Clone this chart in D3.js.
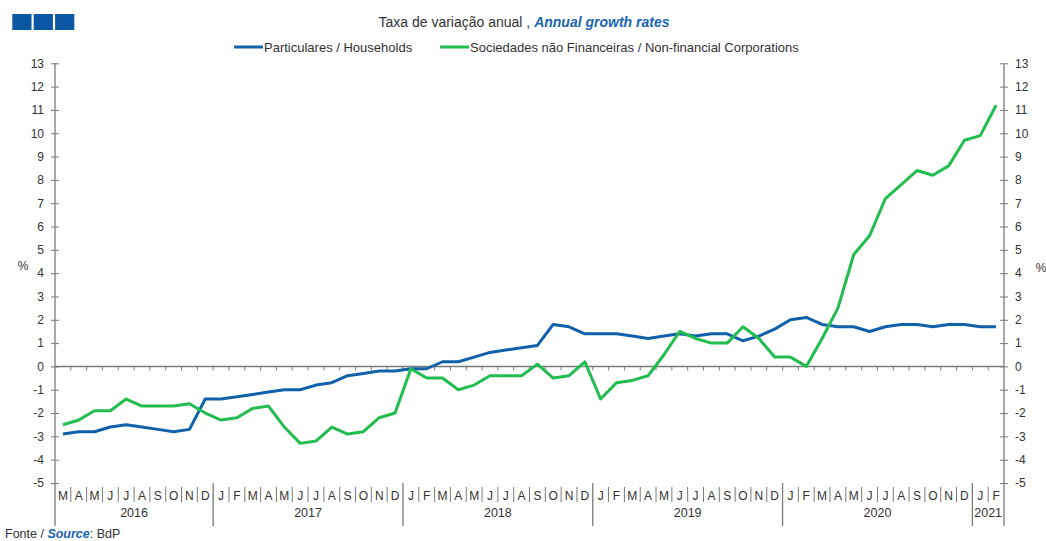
<!DOCTYPE html>
<html>
<head>
<meta charset="utf-8">
<script src="https://cdn.jsdelivr.net/npm/d3@7"></script>
<style>
  html, body { margin: 0; padding: 0; background: #fff; }
  svg { display: block; font-family: "Liberation Sans", Arial, sans-serif; }
</style>
</head>
<body>
<svg id="chart" width="1046" height="541"></svg>
<script>
// ---- data ----
const months = [
  "2016-03","2016-04","2016-05","2016-06","2016-07","2016-08","2016-09","2016-10","2016-11","2016-12",
  "2017-01","2017-02","2017-03","2017-04","2017-05","2017-06","2017-07","2017-08","2017-09","2017-10","2017-11","2017-12",
  "2018-01","2018-02","2018-03","2018-04","2018-05","2018-06","2018-07","2018-08","2018-09","2018-10","2018-11","2018-12",
  "2019-01","2019-02","2019-03","2019-04","2019-05","2019-06","2019-07","2019-08","2019-09","2019-10","2019-11","2019-12",
  "2020-01","2020-02","2020-03","2020-04","2020-05","2020-06","2020-07","2020-08","2020-09","2020-10","2020-11","2020-12",
  "2021-01","2021-02"
];
const monthInitials = ["J","F","M","A","M","J","J","A","S","O","N","D"];
const households = [
  -2.9,-2.8,-2.8,-2.6,-2.5,-2.6,-2.7,-2.8,-2.7,-1.4,
  -1.4,-1.3,-1.2,-1.1,-1.0,-1.0,-0.8,-0.7,-0.4,-0.3,-0.2,-0.2,
  -0.1,-0.1,0.2,0.2,0.4,0.6,0.7,0.8,0.9,1.8,1.7,1.4,
  1.4,1.4,1.3,1.2,1.3,1.4,1.3,1.4,1.4,1.1,1.3,1.6,
  2.0,2.1,1.8,1.7,1.7,1.5,1.7,1.8,1.8,1.7,1.8,1.8,
  1.7,1.7
];
const nonFinancial = [
  -2.5,-2.3,-1.9,-1.9,-1.4,-1.7,-1.7,-1.7,-1.6,-2.0,
  -2.3,-2.2,-1.8,-1.7,-2.6,-3.3,-3.2,-2.6,-2.9,-2.8,-2.2,-2.0,
  -0.1,-0.5,-0.5,-1.0,-0.8,-0.4,-0.4,-0.4,0.1,-0.5,-0.4,0.2,
  -1.4,-0.7,-0.6,-0.4,0.5,1.5,1.2,1.0,1.0,1.7,1.2,0.4,
  0.4,0.0,1.2,2.5,4.8,5.6,7.2,7.8,8.4,8.2,8.6,9.7,
  9.9,11.2
];
const yTicks = [-5,-4,-3,-2,-1,0,1,2,3,4,5,6,7,8,9,10,11,12,13];
const seriesNames = ["Particulares / Households", "Sociedades não Financeiras / Non-financial Corporations"];

// ---- layout ----
const svg = d3.select("#chart");
const plotLeft = 55, plotRight = 1004, plotTop = 63.3, plotBottom = 483;
const axisBottomEnd = 526;
const blue = "#1160aa", green = "#22bd4f", axisColor = "#7a7a7a", textColor = "#333";

const x = d3.scaleBand().domain(months).range([plotLeft, plotRight]).padding(0);
const y = d3.scaleLinear().domain([-5, 13]).range([plotBottom, plotTop]);

// header squares
const sq = svg.append("g").attr("fill", "#0b57a4");
[0,1,2].forEach(i => sq.append("rect").attr("x", 12.3 + i * 21.4).attr("y", 14).attr("width", 19.2).attr("height", 16));

// title
const title = svg.append("text").attr("x", 524).attr("y", 27).attr("text-anchor", "middle")
  .attr("font-size", 14).attr("fill", textColor);
title.append("tspan").text("Taxa de variação anual , ");
title.append("tspan").attr("font-weight", "bold").attr("font-style", "italic").attr("fill", "#1a66b3").text("Annual growth rates");

// legend
const legendItems = [
  {name: seriesNames[0], color: blue, x: 234},
  {name: seriesNames[1], color: green, x: 440}
];
const lg = svg.append("g");
legendItems.forEach(d => {
  lg.append("line").attr("x1", d.x).attr("x2", d.x + 29).attr("y1", 47).attr("y2", 47)
    .attr("stroke", d.color).attr("stroke-width", 3);
  lg.append("text").attr("x", d.x + 30).attr("y", 51.5).attr("font-size", 13).attr("fill", textColor).text(d.name);
});

// y axes
function styleAxis(g) {
  g.select(".domain").remove();
  g.selectAll(".tick line").attr("stroke", axisColor).attr("x1", -4).attr("x2", 4);
  g.selectAll(".tick text").attr("fill", textColor).attr("font-size", 12)
    .attr("font-family", "Liberation Sans, Arial, sans-serif");
}
const fmt = d => String(d);
const yl = svg.append("g").attr("transform", `translate(${plotLeft},0)`)
  .call(d3.axisLeft(y).tickValues(yTicks).tickSize(4).tickPadding(7).tickFormat(fmt));
styleAxis(yl);
const yr = svg.append("g").attr("transform", `translate(${plotRight},0)`)
  .call(d3.axisRight(y).tickValues(yTicks).tickSize(4).tickPadding(7).tickFormat(fmt));
styleAxis(yr);
[plotLeft, plotRight].forEach(px => svg.append("line").attr("x1", px).attr("x2", px).attr("y1", plotTop).attr("y2", axisBottomEnd)
  .attr("stroke", axisColor).attr("stroke-width", 1.3));
svg.append("text").attr("x", 23).attr("y", 270).attr("text-anchor", "middle").attr("font-size", 12).attr("fill", textColor).text("%");
svg.append("text").attr("x", 1041).attr("y", 272).attr("text-anchor", "middle").attr("font-size", 12).attr("fill", textColor).text("%");

// zero line with month ticks
svg.append("line").attr("x1", plotLeft).attr("x2", plotRight).attr("y1", y(0)).attr("y2", y(0))
  .attr("stroke", axisColor).attr("stroke-width", 1.5);
svg.append("g").selectAll("line").data(months.slice(1)).join("line")
  .attr("x1", d => x(d)).attr("x2", d => x(d)).attr("y1", y(0)).attr("y2", y(0) + 4)
  .attr("stroke", axisColor).attr("stroke-width", 1);

// category axis: months
const monthOf = m => +m.slice(5, 7);
const yearOf = m => m.slice(0, 4);
const cat = svg.append("g");
cat.selectAll("text.m").data(months).join("text").attr("class", "m")
  .attr("x", d => x(d) + x.bandwidth() / 2).attr("y", 499.5).attr("text-anchor", "middle")
  .attr("font-size", 12).attr("fill", textColor).text(d => monthInitials[monthOf(d) - 1]);
cat.selectAll("line.m").data(months.slice(1).filter(d => monthOf(d) !== 1)).join("line").attr("class", "m")
  .attr("x1", d => x(d)).attr("x2", d => x(d)).attr("y1", 487).attr("y2", 502)
  .attr("stroke", axisColor).attr("stroke-width", 1);
cat.selectAll("line.y").data(months.filter(d => monthOf(d) === 1)).join("line").attr("class", "y")
  .attr("x1", d => x(d)).attr("x2", d => x(d)).attr("y1", 483).attr("y2", axisBottomEnd)
  .attr("stroke", axisColor).attr("stroke-width", 1.3);
const years = Array.from(d3.group(months, yearOf), ([yr, ms]) => ({yr, first: ms[0], last: ms[ms.length - 1]}));
cat.selectAll("text.y").data(years).join("text").attr("class", "y")
  .attr("x", d => (x(d.first) + x(d.last) + x.bandwidth()) / 2).attr("y", 517).attr("text-anchor", "middle")
  .attr("font-size", 12.5).attr("fill", textColor).text(d => d.yr);

// lines
const line = d3.line().x((d, i) => x(months[i]) + x.bandwidth() / 2).y(d => y(d));
svg.append("path").datum(households).attr("d", line).attr("fill", "none")
  .attr("stroke", blue).attr("stroke-width", 3).attr("stroke-linejoin", "round");
svg.append("path").datum(nonFinancial).attr("d", line).attr("fill", "none")
  .attr("stroke", green).attr("stroke-width", 3).attr("stroke-linejoin", "round");

// source
const src = svg.append("text").attr("x", 5).attr("y", 537.5).attr("font-size", 12.5).attr("fill", textColor);
src.append("tspan").text("Fonte / ");
src.append("tspan").attr("font-weight", "bold").attr("font-style", "italic").attr("fill", "#1a66b3").text("Source");
src.append("tspan").text(": BdP");
</script>
</body>
</html>
